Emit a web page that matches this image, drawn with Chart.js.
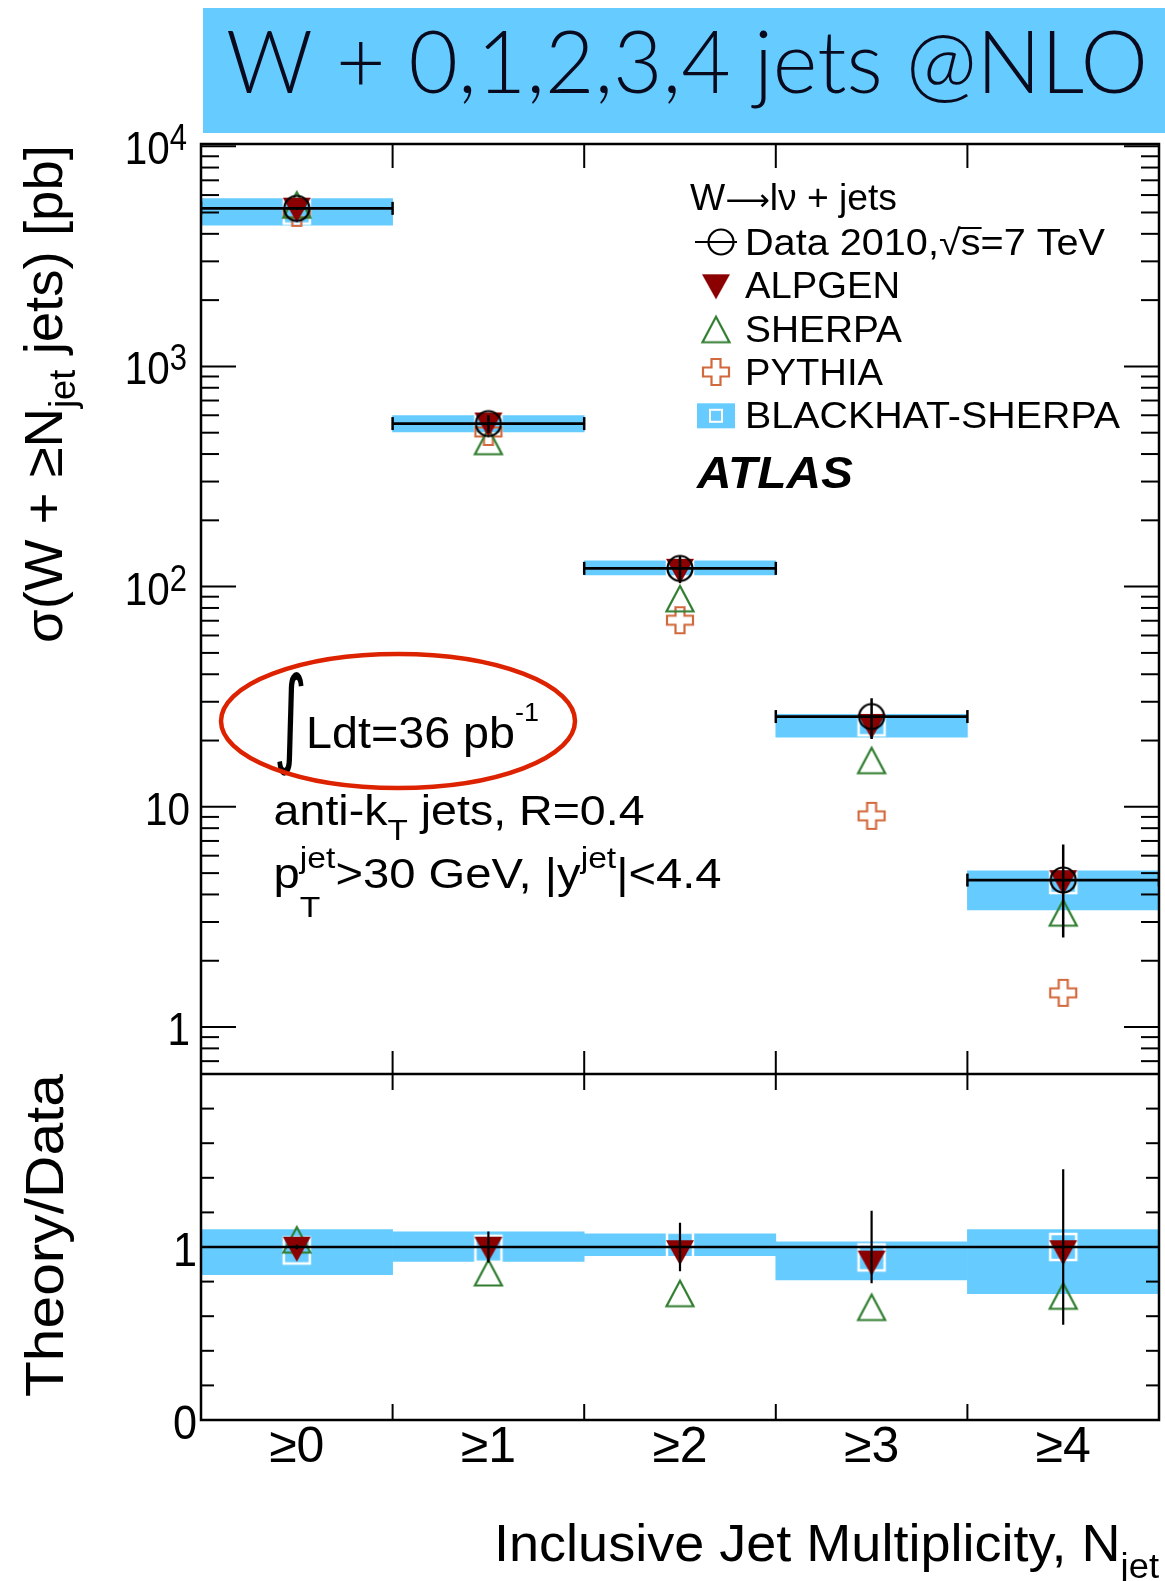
<!DOCTYPE html>
<html>
<head>
<meta charset="utf-8">
<script src="https://cdn.jsdelivr.net/npm/chart.js@4.4.1/dist/chart.umd.min.js"></script>
<style>
  html, body { margin: 0; padding: 0; background: #fff; }
  canvas { display: block; }
</style>
</head>
<body>
<canvas id="wjets" width="1165" height="1581" style="width:1165px;height:1581px"></canvas>
<script>
// bins of inclusive jet multiplicity
const categories = ['≥0', '≥1', '≥2', '≥3', '≥4'];
const binEdges = [-0.5, 0.5, 1.5, 2.5, 3.5, 4.5];

// upper panel: cross sections [pb]
const dataXsec   = [5220, 550, 121, 25.7, 4.65];
const dataLo     = [5140, 500, 104, 20.3, 2.55];
const dataHi     = [5300, 600, 138, 31.1, 6.75];
const alpgenXsec = [5150, 545, 118, 23.3, 4.55];
const sherpaXsec = [5400, 455, 88, 16.2, 3.29];
const pythiaXsec = [4980, 504, 70.4, 9.1, 1.43];
const bhXsec     = [5100, 545, 122, 24.2, 4.65];
const bhLo       = [4380, 504, 113, 20.7, 3.40];
const bhHi       = [5780, 598, 131, 26.3, 5.12];

// lower panel: theory / data
const ratioData    = [1, 1, 1, 1, 1];
const ratioDataErr = [0.015, 0.09, 0.14, 0.21, 0.45];
const ratioAlpgen  = [0.99, 0.99, 0.97, 0.91, 0.97];
const ratioSherpa  = [1.04, 0.85, 0.73, 0.65, 0.715];
const ratioBh      = [0.98, 0.99, 1.01, 0.94, 1.0];
const ratioBhLo    = [0.84, 0.917, 0.95, 0.81, 0.73];
const ratioBhHi    = [1.10, 1.087, 1.076, 1.03, 1.10];

// axis labels
const mainTickVals    = [1, 10, 100, 1000, 10000];
const mainTickLabels  = [['1', ''], ['10', ''], ['10', '2'], ['10', '3'], ['10', '4']];
const ratioTickVals   = [0, 1];
const ratioTickLabels = ['0', '1'];
const legendNames = ['Data 2010,√s=7 TeV', 'ALPGEN', 'SHERPA', 'PYTHIA', 'BLACKHAT-SHERPA'];

const SANS = '"Liberation Sans", Arial, Helvetica, sans-serif';
const BLUE = '#66ccff';
const RED = '#8b0000';
const GREEN = '#2f7d2f';
const ORANGE = '#d2693c';

const binX = categories.map((c, i) => i);

// ROOT-like marker images
function marker(kind, color) {
  const c = document.createElement('canvas');
  c.width = 32; c.height = 32;
  const g = c.getContext('2d');
  g.strokeStyle = color; g.fillStyle = color; g.lineWidth = 2.2;
  g.beginPath();
  if (kind === 'circle') {
    g.arc(16, 16, 12.5, 0, Math.PI * 2); g.stroke();
  } else if (kind === 'down') {
    g.moveTo(2, 4); g.lineTo(30, 4); g.lineTo(16, 29); g.closePath(); g.fill();
  } else if (kind === 'up') {
    g.moveTo(16, 3); g.lineTo(29.5, 28.5); g.lineTo(2.5, 28.5); g.closePath(); g.stroke();
  } else if (kind === 'cross') {
    const a = 3, b = 11.5, d = 20.5, e = 29;
    g.moveTo(b, a); g.lineTo(d, a); g.lineTo(d, b); g.lineTo(e, b); g.lineTo(e, d); g.lineTo(d, d);
    g.lineTo(d, e); g.lineTo(b, e); g.lineTo(b, d); g.lineTo(a, d); g.lineTo(a, b); g.lineTo(b, b);
    g.closePath(); g.stroke();
  } else if (kind === 'square') {
    g.lineWidth = 2.5; g.strokeRect(3, 3, 26, 26);
  }
  return c;
}
const M = {
  data: marker('circle', '#000'),
  alpgen: marker('down', RED),
  sherpa: marker('up', GREEN),
  pythia: marker('cross', ORANGE),
  bh: marker('square', '#fff')
};

const pts = vals => vals.map((v, i) => ({x: binX[i], y: v}));
const hLine = vals => vals.flatMap((v, i) => [{x: binX[i] - 0.5, y: v}, {x: binX[i] + 0.5, y: v}, {x: binX[i] + 0.5, y: null}]);
const vLine = (lo, hi) => lo.flatMap((l, i) => [{x: binX[i], y: l}, {x: binX[i], y: hi[i]}, {x: binX[i], y: null}]);
const band = (lo, hi) => lo.map((l, i) => ({x: binX[i], y: [l, hi[i]]}));

function line(ctx, x1, y1, x2, y2) {
  ctx.beginPath(); ctx.moveTo(x1, y1); ctx.lineTo(x2, y2); ctx.stroke();
}

// text with sub/superscripts, optional fitted width
function rich(ctx, x, y, parts, o) {
  const fam = o.family || SANS;
  const pre = (o.style || 'normal') + ' ' + (o.weight || 'normal') + ' ';
  const fontOf = p => pre + (p.size || o.size) + 'px ' + (p.family || fam);
  ctx.save();
  const w = parts.map(p => { ctx.font = fontOf(p); return ctx.measureText(p.t).width; });
  let natural = 0, held = 0;
  parts.forEach((p, i) => {
    if (p.hold) held = w[i]; else { natural += Math.max(w[i], held); held = 0; }
  });
  const sx = o.width ? o.width / natural : (o.sx || 1);
  let cx = o.align === 'right' ? -natural : o.align === 'center' ? -natural / 2 : 0;
  ctx.translate(x, y);
  if (o.rot) ctx.rotate(o.rot);
  ctx.scale(sx, 1);
  ctx.fillStyle = o.color || '#000';
  ctx.textAlign = 'left';
  ctx.textBaseline = 'alphabetic';
  held = 0;
  parts.forEach((p, i) => {
    ctx.font = fontOf(p);
    const dy = p.dy || 0;
    ctx.fillText(p.t, cx, dy);
    if (p.over) ctx.fillRect(cx - 2, dy - p.over, w[i] + 3, 2);
    if (p.hold) held = w[i]; else { cx += Math.max(w[i], held); held = 0; }
  });
  ctx.restore();
}

function fitGlyph(ctx, t, x0, y0, x1, y1) {
  ctx.save();
  ctx.font = '100px "DejaVu Sans", ' + SANS;
  const m = ctx.measureText(t);
  const gw = m.actualBoundingBoxLeft + m.actualBoundingBoxRight;
  const gh = m.actualBoundingBoxAscent + m.actualBoundingBoxDescent;
  ctx.translate(x0, y0);
  ctx.scale((x1 - x0) / gw, (y1 - y0) / gh);
  ctx.fillStyle = '#000';
  ctx.textAlign = 'left';
  ctx.textBaseline = 'alphabetic';
  ctx.fillText(t, m.actualBoundingBoxLeft, m.actualBoundingBoxAscent);
  ctx.restore();
}

const rootStyle = {
  id: 'rootStyle',
  beforeDraw(chart) {
    const ctx = chart.ctx;
    ctx.save();
    ctx.fillStyle = '#fff';
    ctx.fillRect(0, 0, chart.width, chart.height);
    ctx.fillStyle = BLUE;
    ctx.fillRect(203, 8, 962, 125);
    ctx.restore();
    rich(ctx, 226, 93, [{t: 'W + 0,1,2,3,4 jets @NLO'}],
      {size: 86, width: 922, weight: 300, family: 'Lato, ' + SANS, color: '#0a0a1e'});
  },
  afterDatasetsDraw(chart) {
    const {ctx, chartArea: a, scales: {x, y, y2}} = chart;
    ctx.save();
    ctx.strokeStyle = '#000';
    ctx.lineWidth = 2;
    y.ticks.forEach(t => {
      const p = y.getPixelForValue(t.value);
      if (p <= y.top + 1 || p >= y.bottom - 1) return;
      const len = t.major ? 35 : 18;
      line(ctx, a.left, p, a.left + len, p);
      line(ctx, a.right, p, a.right - len, p);
    });
    y2.ticks.forEach(t => {
      const p = y2.getPixelForValue(t.value);
      if (p <= y2.top + 1 || p >= y2.bottom - 1) return;
      const len = t.major ? 25 : 13;
      line(ctx, a.left, p, a.left + len, p);
      line(ctx, a.right, p, a.right - len, p);
    });
    x.ticks.forEach(t => {
      const p = x.getPixelForValue(t.value);
      if (p <= a.left + 1 || p >= a.right - 1) return;
      line(ctx, p, y.top, p, y.top + 24);
      line(ctx, p, y.bottom, p, y.bottom - 23);
      line(ctx, p, y2.top, p, y2.top + 16);
      line(ctx, p, y2.bottom, p, y2.bottom - 16);
    });
    ctx.lineWidth = 2.5;
    ctx.strokeRect(a.left, a.top, a.right - a.left, a.bottom - a.top);
    line(ctx, a.left, y.bottom, a.right, y.bottom);
    ctx.restore();
  },
  afterDraw(chart) {
    const {ctx, scales: {x, y, y2}} = chart;

    // tick labels
    mainTickVals.forEach((v, i) => {
      const p = y.getPixelForValue(v) + 18;
      const [b, e] = mainTickLabels[i];
      const parts = [{t: b}];
      if (e) parts.push({t: e, size: 36, dy: -14});
      rich(ctx, e ? 187 : 190, p, parts, {size: 47, sx: 0.86, align: 'right'});
    });
    ratioTickVals.forEach((v, i) => {
      rich(ctx, 197, y2.getPixelForValue(v) + 19, [{t: ratioTickLabels[i]}], {size: 48, sx: 0.9, align: 'right'});
    });
    categories.forEach((c, i) => {
      rich(ctx, x.getPixelForValue(binX[i]), 1462, [{t: c}], {size: 50, align: 'center'});
    });

    // axis titles
    rich(ctx, 62, 643, [{t: 'σ(W + ≥N'}, {t: 'jet', size: 36, dy: 13}, {t: ' jets) [pb]'}],
      {size: 54, width: 498, rot: -Math.PI / 2});
    rich(ctx, 63, 1397, [{t: 'Theory/Data'}], {size: 54, width: 323, rot: -Math.PI / 2});
    rich(ctx, 494, 1561, [{t: 'Inclusive Jet Multiplicity, N'}, {t: 'jet', size: 35, dy: 17}],
      {size: 52, width: 665});

    // legend
    rich(ctx, 690, 210, [{t: 'W'}, {t: '⟶', family: '"DejaVu Sans", sans-serif', size: 30}, {t: 'lν + jets'}], {size: 36, width: 207});
    const rows = [255, 298.3, 341.7, 385, 428.3];
    const widths = [360, 155, 157, 138, 375];
    const dataParts = legendNames[0].split('√');
    rich(ctx, 745, rows[0], [{t: dataParts[0] + '√'}, {t: 's', over: 28}, {t: dataParts[1].slice(1)}], {size: 36, width: widths[0]});
    for (let i = 1; i < legendNames.length; i++) {
      rich(ctx, 745, rows[i], [{t: legendNames[i]}], {size: 36, width: widths[i]});
    }
    ctx.save();
    ctx.strokeStyle = '#000'; ctx.lineWidth = 2;
    line(ctx, 695, rows[0] - 13, 737, rows[0] - 13);
    ctx.drawImage(M.data, 721 - 16, rows[0] - 13 - 16);
    ctx.drawImage(M.alpgen, 716 - 16, rows[1] - 12 - 16);
    ctx.drawImage(M.sherpa, 716 - 16, rows[2] - 12 - 16);
    ctx.drawImage(M.pythia, 716 - 16, rows[3] - 13 - 16);
    ctx.fillStyle = BLUE;
    ctx.fillRect(697, rows[4] - 25, 38, 25);
    ctx.strokeStyle = '#fff';
    ctx.strokeRect(710, rows[4] - 18.5, 12, 12);
    ctx.restore();
    rich(ctx, 697, 488, [{t: 'ATLAS'}], {size: 45, weight: 'bold', style: 'italic', width: 156});

    // annotations
    fitGlyph(ctx, '∫', 277, 672, 304, 777);
    rich(ctx, 306, 748, [{t: 'Ldt=36 pb'}, {t: '-1', size: 26, dy: -27}], {size: 45, width: 233});
    rich(ctx, 273.6, 825, [{t: 'anti-k'}, {t: 'T', size: 30, dy: 15}, {t: ' jets, R=0.4'}], {size: 42, width: 371});
    rich(ctx, 273.6, 888, [
      {t: 'p'}, {t: 'T', size: 30, dy: 29, hold: true}, {t: 'jet', size: 30, dy: -20},
      {t: '>30 GeV, |y'}, {t: 'jet', size: 30, dy: -20}, {t: '|<4.4'}
    ], {size: 42, width: 448});

    ctx.save();
    ctx.strokeStyle = '#dd2200';
    ctx.lineWidth = 4.5;
    ctx.beginPath();
    ctx.ellipse(398, 721, 177, 67, 0, 0, Math.PI * 2);
    ctx.stroke();
    ctx.restore();
  }
};

const ratioLo = ratioData.map((v, i) => v - ratioDataErr[i]);
const ratioHi = ratioData.map((v, i) => v + ratioDataErr[i]);

const bandStyle = {backgroundColor: BLUE, borderWidth: 0, grouped: false, barPercentage: 1, categoryPercentage: 1};
const markerStyle = (img) => ({pointStyle: img, pointRadius: 14, pointHoverRadius: 14});
const hidden = {ticks: {display: false}, grid: {display: false, drawTicks: false, offset: false}, border: {display: false}};

new Chart(document.getElementById('wjets'), {
  type: 'scatter',
  data: {
    datasets: [
      Object.assign({type: 'bar', label: legendNames[4], data: band(bhLo, bhHi), yAxisID: 'y', order: 20}, bandStyle),
      Object.assign({type: 'bar', label: legendNames[4] + ' / data', data: band(ratioBhLo, ratioBhHi), yAxisID: 'y2', order: 20}, bandStyle),
      Object.assign({type: 'scatter', label: legendNames[4], data: pts(bhXsec), yAxisID: 'y', order: 15}, markerStyle(M.bh)),
      Object.assign({type: 'scatter', label: legendNames[4] + ' / data', data: pts(ratioBh), yAxisID: 'y2', order: 15}, markerStyle(M.bh)),
      Object.assign({type: 'scatter', label: legendNames[3], data: pts(pythiaXsec), yAxisID: 'y', order: 12}, markerStyle(M.pythia)),
      Object.assign({type: 'scatter', label: legendNames[2], data: pts(sherpaXsec), yAxisID: 'y', order: 11}, markerStyle(M.sherpa)),
      Object.assign({type: 'scatter', label: legendNames[2] + ' / data', data: pts(ratioSherpa), yAxisID: 'y2', order: 11}, markerStyle(M.sherpa)),
      Object.assign({type: 'scatter', label: legendNames[1], data: pts(alpgenXsec), yAxisID: 'y', order: 10}, markerStyle(M.alpgen)),
      Object.assign({type: 'scatter', label: legendNames[1] + ' / data', data: pts(ratioAlpgen), yAxisID: 'y2', order: 10}, markerStyle(M.alpgen)),
      {type: 'line', label: 'data bin width', data: hLine(dataXsec), yAxisID: 'y', order: 5,
        borderColor: '#000', borderWidth: 2.8, pointStyle: 'line', pointRotation: 90, pointRadius: 6.5,
        pointBorderColor: '#000', pointBorderWidth: 2.5},
      {type: 'line', label: 'data / data', data: ratioData.flatMap((v, i) => [{x: binX[i] - 0.5, y: v}, {x: binX[i] + 0.5, y: v}]),
        yAxisID: 'y2', order: 5, borderColor: '#000', borderWidth: 2.5, pointRadius: 0},
      Object.assign({type: 'scatter', label: legendNames[0], data: pts(dataXsec), yAxisID: 'y', order: 4}, markerStyle(M.data)),
      {type: 'line', label: 'data error', data: vLine(dataLo, dataHi), yAxisID: 'y', order: 3,
        borderColor: '#000', borderWidth: 2.5, pointRadius: 0},
      {type: 'line', label: 'data error / data', data: vLine(ratioLo, ratioHi), yAxisID: 'y2', order: 3,
        borderColor: '#000', borderWidth: 2.2, pointRadius: 0}
    ]
  },
  options: {
    responsive: false,
    animation: false,
    events: [],
    layout: {autoPadding: false, padding: {left: 201, right: 6, top: 144, bottom: 161}},
    plugins: {legend: {display: false}, tooltip: {enabled: false}, title: {display: false}},
    scales: {
      x: Object.assign({
        type: 'linear', position: 'bottom', min: -0.5, max: 4.5, offset: false, bounds: 'data',
        afterBuildTicks: s => { s.ticks = binEdges.map(v => ({value: v})); }
      }, hidden),
      // left-hand boxes are laid out in reverse order, so the ratio axis is listed first
      y2: Object.assign({
        type: 'linear', position: 'left', stack: 'panels', stackWeight: 346,
        min: 0, max: 2, bounds: 'data',
        afterBuildTicks: s => {
          const t = [];
          for (let i = 0; i <= 10; i++) t.push({value: i / 5, major: i % 5 === 0});
          s.ticks = t;
        }
      }, hidden),
      y: Object.assign({
        type: 'logarithmic', position: 'left', stack: 'panels', stackWeight: 930,
        min: 0.612, max: 10233, bounds: 'data', beginAtZero: false,
        afterBuildTicks: s => {
          const t = [];
          for (let e = -1; e <= 4; e++) {
            for (let k = 1; k <= 9; k++) {
              const v = k * Math.pow(10, e);
              if (v >= s.min && v <= s.max) t.push({value: v, major: k === 1});
            }
          }
          s.ticks = t;
        }
      }, hidden)
    }
  },
  plugins: [rootStyle]
});
</script>
</body>
</html>
